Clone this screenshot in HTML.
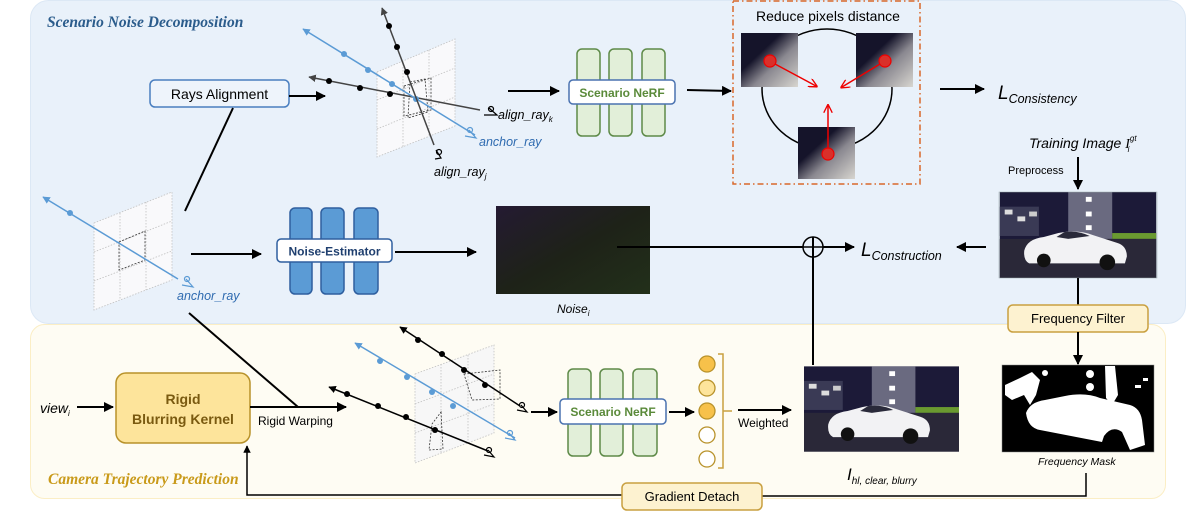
<!DOCTYPE html>
<html><head><meta charset="utf-8"><style>
html,body{margin:0;padding:0;background:#fff;}
svg{display:block;font-family:"Liberation Sans",sans-serif;}
.serif{font-family:"Liberation Serif",serif;}
</style></head><body>
<svg width="1196" height="519" viewBox="0 0 1196 519" xmlns="http://www.w3.org/2000/svg">
<defs>
<marker id="ah" viewBox="0 0 10 10" refX="9" refY="5" markerWidth="5" markerHeight="5" orient="auto-start-reverse"><path d="M0,0 L10,5 L0,10 z" fill="#000"/></marker>
<marker id="ahg" viewBox="0 0 10 10" refX="9" refY="5" markerWidth="5" markerHeight="5" orient="auto"><path d="M0,0 L10,5 L0,10 z" fill="#444"/></marker>
<marker id="ahb" viewBox="0 0 10 10" refX="9" refY="5" markerWidth="5" markerHeight="5" orient="auto"><path d="M0,0 L10,5 L0,10 z" fill="#5b9bd5"/></marker>
<marker id="ahr" viewBox="0 0 10 10" refX="8" refY="5" markerWidth="6" markerHeight="6" orient="auto"><path d="M0,0 L10,5 L0,10" fill="none" stroke="#e00" stroke-width="1.5"/></marker>
<linearGradient id="patch" x1="0" y1="0" x2="1" y2="1"><stop offset="0.35" stop-color="#15142a"/><stop offset="0.6" stop-color="#8a8890"/><stop offset="1" stop-color="#d8d6d0"/></linearGradient>
<linearGradient id="noise" x1="0" y1="0" x2="1" y2="1"><stop offset="0" stop-color="#241a32"/><stop offset="0.5" stop-color="#1e2218"/><stop offset="1" stop-color="#22301a"/></linearGradient>
<symbol id="photo" viewBox="0 0 160 88">
<rect width="160" height="88" fill="#1c1a38"/>
<rect x="70" y="0" width="45" height="48" fill="#6a6a80"/>
<rect x="0" y="15" width="40" height="30" fill="#3a3a55"/>
<rect x="5" y="18" width="8" height="5" fill="#ddd"/><rect x="18" y="25" width="8" height="5" fill="#ddd"/><rect x="30" y="20" width="8" height="5" fill="#ccc"/>
<rect x="88" y="5" width="6" height="5" fill="#fff"/><rect x="88" y="20" width="6" height="5" fill="#fff"/><rect x="88" y="34" width="6" height="5" fill="#fff"/>
<rect x="115" y="42" width="45" height="6" fill="#6a9a30"/>
<rect x="0" y="48" width="160" height="40" fill="#2a2838"/>
<path d="M25,60 Q28,48 45,46 L60,42 Q80,38 95,44 L120,52 Q130,55 130,66 L128,73 L30,73 Q24,70 25,60 z" fill="#f2f2f4"/>
<path d="M58,46 L66,41 Q80,39 92,45 L70,48 z" fill="#2a2a3a"/>
<circle cx="45" cy="70" r="7" fill="#111"/><circle cx="110" cy="72" r="8" fill="#111"/>
</symbol>
</defs>

<rect x="30.5" y="0.5" width="1155" height="323" rx="18" fill="#e9f1fa" stroke="#dce8f5"/>
<rect x="30.5" y="324.5" width="1135" height="174" rx="14" fill="#fefcf3" stroke="#fbeec5"/>

<text x="47" y="27" class="serif" font-style="italic" font-weight="bold" font-size="15.5" fill="#2b5c8c">Scenario Noise Decomposition</text>
<text x="48" y="484" class="serif" font-style="italic" font-weight="bold" font-size="15.5" fill="#c99a1a">Camera Trajectory Prediction</text>

<rect x="150" y="80" width="139" height="27" rx="5" fill="#eef4fb" stroke="#4a7fc0" stroke-width="1.5"/>
<text x="219.5" y="99" font-size="14" text-anchor="middle">Rays Alignment</text>
<line x1="289" y1="96" x2="325" y2="96" stroke="#000" stroke-width="2" marker-end="url(#ah)"/>
<line x1="233" y1="108" x2="185" y2="211" stroke="#000" stroke-width="2"/>

<g stroke="#c0c0c0" stroke-width="0.8" stroke-dasharray="1.5,1.5" fill="none">
<polygon points="377,72 455,39 455,126 377,157" fill="#f9f9fb"/>
<line x1="403" y1="61" x2="403" y2="148"/><line x1="429" y1="50" x2="429" y2="137"/>
<line x1="377" y1="100" x2="455" y2="68"/><line x1="377" y1="129" x2="455" y2="97"/>
</g>
<g stroke="#333" stroke-width="0.8" stroke-dasharray="2,1.5" fill="none">
<polygon points="404,86 431,78 431,110 404,116"/><polygon points="410,82 425,79 428,112 408,118"/>
</g>
<line x1="480" y1="110" x2="309" y2="77" stroke="#444" stroke-width="1.5" marker-end="url(#ahg)"/>
<g fill="#000"><circle cx="329" cy="81" r="3"/><circle cx="360" cy="88" r="3"/><circle cx="390" cy="94" r="3"/></g>
<line x1="475" y1="135" x2="303" y2="29" stroke="#5b9bd5" stroke-width="1.5" marker-end="url(#ahb)"/>
<g fill="#5b9bd5"><circle cx="344" cy="54" r="3"/><circle cx="368" cy="70" r="3"/><circle cx="392" cy="84" r="3"/><circle cx="416" cy="99" r="3"/></g>
<line x1="434" y1="145" x2="382" y2="8" stroke="#444" stroke-width="1.5" marker-end="url(#ahg)"/>
<g fill="#000"><circle cx="389" cy="26" r="3"/><circle cx="397" cy="47" r="3"/><circle cx="407" cy="72" r="3"/></g>
<g fill="none" stroke="#000" stroke-width="1.2"><circle cx="491" cy="109" r="2.5"/><path d="M484,115 L497,115 L489,108"/>
<circle cx="439" cy="152" r="2.5"/><path d="M435,159 L441,158 L436,150"/></g>
<g fill="none" stroke="#5b9bd5" stroke-width="1.2"><circle cx="470" cy="130" r="2.5"/><path d="M465,136 L476,138 L469,130"/></g>
<text x="498" y="119" font-size="12.5" font-style="italic">align_ray<tspan font-size="8" dy="3">k</tspan></text>
<text x="479" y="146" font-size="12.5" font-style="italic" fill="#2f6bb0">anchor_ray</text>
<text x="434" y="176" font-size="12.5" font-style="italic">align_ray<tspan font-size="8" dy="3">j</tspan></text>

<line x1="508" y1="91" x2="559" y2="91" stroke="#000" stroke-width="2" marker-end="url(#ah)"/>

<g fill="#e2efd9" stroke="#5e8a48" stroke-width="1.5">
<rect x="577" y="49" width="23" height="87" rx="5"/><rect x="609" y="49" width="23" height="87" rx="5"/><rect x="642" y="49" width="23" height="87" rx="5"/>
</g>
<rect x="569" y="80" width="106" height="24" rx="4" fill="#fff" stroke="#4a72b0" stroke-width="1.5"/>
<text x="622" y="97" font-size="12" font-weight="bold" fill="#5a8a3a" text-anchor="middle">Scenario NeRF</text>
<line x1="687" y1="90" x2="731" y2="91" stroke="#000" stroke-width="2" marker-end="url(#ah)"/>

<rect x="733" y="1" width="187" height="183" fill="none" stroke="#d9692a" stroke-width="1.5" stroke-dasharray="6,3,1.5,3"/>
<text x="828" y="21" font-size="14" text-anchor="middle">Reduce pixels distance</text>
<ellipse cx="827" cy="89" rx="65" ry="60" fill="none" stroke="#000" stroke-width="1.5"/>
<rect x="741" y="33" width="57" height="54" fill="url(#patch)"/>
<rect x="856" y="33" width="57" height="54" fill="url(#patch)"/>
<rect x="798" y="127" width="57" height="52" fill="url(#patch)"/>
<g fill="#d9302a" stroke="#e00" stroke-width="1.2"><circle cx="770" cy="61" r="6"/><circle cx="885" cy="61" r="6"/><circle cx="828" cy="154" r="6"/></g>
<g stroke="#e00" stroke-width="1.5"><line x1="775" y1="64" x2="816" y2="86" marker-end="url(#ahr)"/><line x1="880" y1="64" x2="842" y2="87" marker-end="url(#ahr)"/><line x1="828" y1="148" x2="828" y2="106" marker-end="url(#ahr)"/></g>
<line x1="940" y1="89" x2="984" y2="89" stroke="#000" stroke-width="2" marker-end="url(#ah)"/>
<text x="998" y="99" font-size="19" font-style="italic">L<tspan font-size="12.5" dy="4">Consistency</tspan></text>

<text x="1029" y="148" font-size="14" font-style="italic">Training Image <tspan class="serif">I</tspan><tspan font-size="8" dy="-7">gt</tspan><tspan font-size="8" dx="-9" dy="11">i</tspan></text>
<text x="1008" y="174" font-size="11">Preprocess</text>
<line x1="1078" y1="157" x2="1078" y2="189" stroke="#000" stroke-width="2" marker-end="url(#ah)"/>
<use href="#photo" x="999" y="192" width="158" height="86"/>
<rect x="999" y="192" width="158" height="86" fill="none" stroke="#9aa" stroke-width="0.5"/>
<line x1="1078" y1="278" x2="1078" y2="305" stroke="#000" stroke-width="2"/>

<g stroke="#c0c0c0" stroke-width="0.8" stroke-dasharray="1.5,1.5" fill="none">
<polygon points="94,223 172,192 172,280 94,310" fill="#f9f9fb"/>
<line x1="120" y1="213" x2="120" y2="300"/><line x1="146" y1="202" x2="146" y2="290"/>
<line x1="94" y1="252" x2="172" y2="221"/><line x1="94" y1="281" x2="172" y2="251"/>
</g>
<polygon points="119,242 145,231 145,260 119,270" fill="none" stroke="#333" stroke-width="0.8" stroke-dasharray="2,1.5"/>
<line x1="178" y1="279" x2="43" y2="197" stroke="#5b9bd5" stroke-width="1.5" marker-end="url(#ahb)"/>
<circle cx="70" cy="213" r="3" fill="#5b9bd5"/>
<g fill="none" stroke="#5b9bd5" stroke-width="1.2"><circle cx="187" cy="279" r="2.5"/><path d="M182,285 L193,287 L186,279"/></g>
<text x="177" y="300" font-size="12.5" font-style="italic" fill="#2f6bb0">anchor_ray</text>
<line x1="191" y1="254" x2="261" y2="254" stroke="#000" stroke-width="2" marker-end="url(#ah)"/>

<g fill="#5b9bd5" stroke="#2f5f9f" stroke-width="1.5">
<rect x="290" y="208" width="22" height="86" rx="5"/><rect x="321" y="208" width="23" height="86" rx="5"/><rect x="354" y="208" width="24" height="86" rx="5"/>
</g>
<rect x="277" y="239" width="115" height="23" rx="4" fill="#fff" stroke="#2f5f9f" stroke-width="1.5"/>
<text x="334.5" y="255.5" font-size="12" font-weight="bold" fill="#1f3f6f" text-anchor="middle">Noise-Estimator</text>
<line x1="395" y1="252" x2="476" y2="252" stroke="#000" stroke-width="2" marker-end="url(#ah)"/>
<rect x="496" y="206" width="154" height="88" fill="url(#noise)"/>
<text x="557" y="313" font-size="12" font-style="italic">Noise<tspan font-size="8" dy="3">i</tspan></text>

<line x1="617" y1="247" x2="803" y2="247" stroke="#000" stroke-width="2"/>
<circle cx="813" cy="247" r="10" fill="none" stroke="#000" stroke-width="1.5"/>
<line x1="803" y1="247" x2="823" y2="247" stroke="#000" stroke-width="1.5"/>
<line x1="813" y1="237" x2="813" y2="365" stroke="#000" stroke-width="2"/>
<line x1="823" y1="247" x2="854" y2="247" stroke="#000" stroke-width="2" marker-end="url(#ah)"/>
<text x="861" y="256" font-size="19" font-style="italic">L<tspan font-size="12.5" dy="4">Construction</tspan></text>
<line x1="986" y1="247" x2="957" y2="247" stroke="#000" stroke-width="2" marker-end="url(#ah)"/>

<line x1="189" y1="313" x2="298" y2="407" stroke="#000" stroke-width="2"/>
<text x="40" y="413" font-size="14" font-style="italic">view<tspan font-size="8" dy="3">i</tspan></text>
<line x1="77" y1="407" x2="113" y2="407" stroke="#000" stroke-width="2" marker-end="url(#ah)"/>
<rect x="116" y="373" width="134" height="70" rx="10" fill="#fde49b" stroke="#b8922a" stroke-width="1.5"/>
<text x="183" y="404" font-size="14" font-weight="bold" fill="#7a5a10" text-anchor="middle">Rigid</text>
<text x="183" y="424" font-size="14" font-weight="bold" fill="#7a5a10" text-anchor="middle">Blurring Kernel</text>
<line x1="250" y1="407" x2="346" y2="407" stroke="#000" stroke-width="2" marker-end="url(#ah)"/>
<text x="258" y="425" font-size="12">Rigid Warping</text>

<g stroke="#c0c0c0" stroke-width="0.8" stroke-dasharray="1.5,1.5" fill="none">
<polygon points="415,374 494,345 494,433 415,463" fill="#f7f7f7"/>
<line x1="441" y1="364" x2="441" y2="453"/><line x1="468" y1="355" x2="468" y2="443"/>
<line x1="415" y1="404" x2="494" y2="374"/><line x1="415" y1="433" x2="494" y2="404"/>
</g>
<g stroke="#333" stroke-width="0.8" stroke-dasharray="2,1.5" fill="none">
<polygon points="464,374 500,370 500,399 472,400"/><polygon points="441,412 443,449 429,450 432,424"/>
</g>
<line x1="515" y1="438" x2="355" y2="343" stroke="#5b9bd5" stroke-width="1.5" marker-end="url(#ahb)"/>
<g fill="#5b9bd5"><circle cx="380" cy="361" r="3"/><circle cx="407" cy="377" r="3"/><circle cx="432" cy="392" r="3"/><circle cx="453" cy="406" r="3"/></g>
<line x1="520" y1="406" x2="400" y2="327" stroke="#000" stroke-width="1.5" marker-end="url(#ah)"/>
<g fill="#000"><circle cx="418" cy="340" r="3"/><circle cx="442" cy="354" r="3"/><circle cx="464" cy="370" r="3"/><circle cx="485" cy="385" r="3"/></g>
<line x1="488" y1="451" x2="329" y2="387" stroke="#000" stroke-width="1.5" marker-end="url(#ah)"/>
<g fill="#000"><circle cx="347" cy="394" r="3"/><circle cx="378" cy="406" r="3"/><circle cx="406" cy="417" r="3"/><circle cx="435" cy="430" r="3"/></g>
<g fill="none" stroke="#000" stroke-width="1.2"><circle cx="522" cy="405" r="2.5"/><path d="M517,410 L527,412 L521,405"/><circle cx="489" cy="450" r="2.5"/><path d="M484,455 L494,457 L488,450"/></g>
<g fill="none" stroke="#5b9bd5" stroke-width="1.2"><circle cx="510" cy="433" r="2.5"/><path d="M505,438 L515,440 L509,433"/></g>
<line x1="531" y1="412" x2="557" y2="412" stroke="#000" stroke-width="2" marker-end="url(#ah)"/>

<g fill="#e2efd9" stroke="#5e8a48" stroke-width="1.5">
<rect x="568" y="369" width="23" height="87" rx="5"/><rect x="600" y="369" width="23" height="87" rx="5"/><rect x="633" y="369" width="24" height="87" rx="5"/>
</g>
<rect x="560" y="399" width="106" height="25" rx="4" fill="#fff" stroke="#4a72b0" stroke-width="1.5"/>
<text x="613" y="416" font-size="12" font-weight="bold" fill="#5a8a3a" text-anchor="middle">Scenario NeRF</text>
<line x1="669" y1="412" x2="694" y2="412" stroke="#000" stroke-width="2" marker-end="url(#ah)"/>
<g stroke="#b8922a" stroke-width="1.3">
<circle cx="707" cy="364" r="8" fill="#f7c14a"/><circle cx="707" cy="388" r="8" fill="#fde49b"/><circle cx="707" cy="411" r="8" fill="#f7c14a"/><circle cx="707" cy="435" r="8" fill="#fff"/><circle cx="707" cy="459" r="8" fill="#fff"/>
</g>
<path d="M718,354 L723,354 L723,468 L718,468 M723,411 L732,411" fill="none" stroke="#c9a040" stroke-width="1.5"/>
<line x1="738" y1="410" x2="791" y2="410" stroke="#000" stroke-width="2" marker-end="url(#ah)"/>
<text x="738" y="427" font-size="12">Weighted</text>
<use href="#photo" x="804" y="365" width="155" height="88"/>
<text x="847" y="480" font-size="17" font-style="italic">I<tspan font-size="10" dy="4">hl, clear, blurry</tspan></text>

<rect x="1008" y="305" width="140" height="27" rx="5" fill="#fdf2d0" stroke="#c9a040" stroke-width="1.5"/>
<text x="1078" y="323" font-size="13" text-anchor="middle">Frequency Filter</text>
<line x1="1078" y1="332" x2="1078" y2="364" stroke="#000" stroke-width="2" marker-end="url(#ah)"/>
<rect x="1002" y="365" width="152" height="87" fill="#000" stroke="#888" stroke-width="0.5"/>
<g fill="#fff">
<path d="M1026,413 Q1030,402 1045,400 L1065,396 Q1085,392 1100,398 L1130,405 Q1140,408 1142,420 L1145,445 L1130,450 L1122,432 Q1112,425 1104,436 L1102,442 L1040,430 Q1028,428 1026,413 z"/>
<path d="M1005,385 L1020,378 L1032,372 L1040,380 L1036,395 L1030,405 L1024,395 L1012,400 L1005,395 z"/>
<circle cx="1090" cy="374" r="4"/><circle cx="1090" cy="387" r="4"/><circle cx="1090" cy="400" r="4"/>
<path d="M1105,366 L1115,366 L1118,395 L1112,405 L1106,398 z"/>
<circle cx="1045" cy="373" r="3"/><rect x="1135" y="385" width="6" height="3"/><rect x="1143" y="378" width="5" height="3"/>
</g>
<text x="1038" y="465" font-size="10.5" font-style="italic">Frequency Mask</text>

<polyline points="1086,473 1086,496 762,496" fill="none" stroke="#000" stroke-width="1.5"/>
<polyline points="622,495 247,495 247,446" fill="none" stroke="#000" stroke-width="1.5" marker-end="url(#ah)"/>
<rect x="622" y="483" width="140" height="27" rx="5" fill="#fdf2d0" stroke="#c9a040" stroke-width="1.5"/>
<text x="692" y="501" font-size="13" text-anchor="middle">Gradient Detach</text>
</svg>
</body></html>
